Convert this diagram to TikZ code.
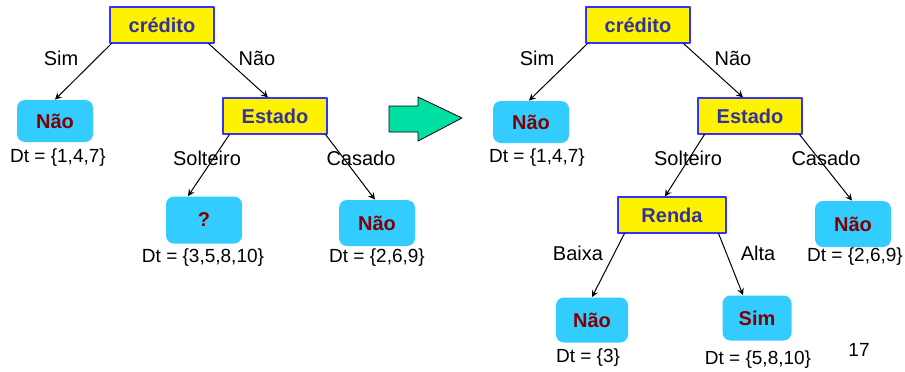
\documentclass[tikz,border=0pt]{standalone}
\usepackage{fontspec}
\setmainfont{Liberation Sans}
\definecolor{azul}{RGB}{51,51,153}
\definecolor{borda}{RGB}{51,51,255}
\definecolor{ciano}{RGB}{51,204,255}
\definecolor{vinho}{RGB}{128,0,0}
\definecolor{seta}{RGB}{0,224,164}
\begin{document}
\begin{tikzpicture}[x=0.5pt,y=-0.5pt,>=stealth, font=\fontsize{10}{12}\selectfont, line join=round, line cap=round,
	teste/.style={draw=borda, fill=yellow, line width=0.6pt, inner sep=0pt, minimum width=52pt, minimum height=18pt, font=\fontsize{10}{12}\selectfont\bfseries, text=azul},
	folha/.style={fill=ciano, rounded corners=4pt, inner sep=0pt, minimum width=38pt, minimum height=21pt, font=\fontsize{10}{12}\selectfont\bfseries, text=vinho},
	conj/.style={font=\fontsize{9.5}{11}\selectfont},
	ramo/.style={->, line width=0.5pt}]
	\useasboundingbox (0,0) rectangle (905,371);
	% arvore inicial
	\node[teste] (c1) at (162,25) {crédito};
	\node[folha] (n1) at (55,121) {Não};
	\node[conj] (d1) at (58,158) {Dt = \{1,4,7\}};
	\node[teste] (e1) at (275,116) {Estado};
	\node[folha, minimum height=23.5pt] (q1) at (204,220) {?};
	\node[conj] (d2) at (203,258) {Dt = \{3,5,8,10\}};
	\node[folha, minimum height=23pt] (n2) at (377,223) {Não};
	\node[conj] (d3) at (377,258) {Dt = \{2,6,9\}};
	\node (sim1) at (61,58) {Sim};
	\node (nao1) at (257,58) {Não};
	\node (sol1) at (207,158) {Solteiro};
	\node (cas1) at (361,158) {Casado};
	\draw[ramo] ([xshift=1pt]c1.south west) -- (n1.north);
	\draw[ramo] ([xshift=-3pt]c1.south east) -- ([xshift=-3.5pt]e1.north);
	\draw[ramo] ([xshift=3.5pt]e1.south west) -- ([xshift=-8pt]q1.north);
	\draw[ramo] ([xshift=-1pt]e1.south east) -- ([xshift=-1pt]n2.north);
	% seta grande
	\draw[fill=seta, line width=0.4pt] (389,106) -- (418,106) -- (418,97) -- (462,118) -- (418,141) -- (418,132) -- (389,132) -- cycle;
	% arvore expandida
	\node[teste] (c2) at (638,25) {crédito};
	\node[folha] (n3) at (531,122) {Não};
	\node[conj] (d4) at (537,158) {Dt = \{1,4,7\}};
	\node[teste] (e2) at (750,116) {Estado};
	\node[teste, minimum width=54pt] (r2) at (672,215) {Renda};
	\node[folha, minimum height=23pt] (n4) at (853,224) {Não};
	\node[conj] (d5) at (855,257) {Dt = \{2,6,9\}};
	\node[folha, minimum width=36pt, minimum height=22.5pt] (n5) at (592,320) {Não};
	\node[conj] (d6) at (588,358) {Dt = \{3\}};
	\node[folha, minimum width=34.5pt, minimum height=22.5pt] (s1) at (757,318) {Sim};
	\node[conj] (d7) at (758,360) {Dt = \{5,8,10\}};
	\node (sim2) at (537,58) {Sim};
	\node (nao2) at (733,58) {Não};
	\node (sol2) at (688,158) {Solteiro};
	\node (cas2) at (826,158) {Casado};
	\node (bai) at (578,253) {Baixa};
	\node (alt) at (758,253) {Alta};
	\node[conj] (pag) at (859,350) {17};
	\draw[ramo] ([xshift=1pt]c2.south west) -- ([xshift=-1pt]n3.north);
	\draw[ramo] ([xshift=-3.5pt]c2.south east) -- ([xshift=-3.5pt]e2.north);
	\draw[ramo] ([xshift=3.5pt]e2.south west) -- ([xshift=-3.5pt]r2.north);
	\draw[ramo] ([xshift=-1.5pt]e2.south east) -- ([xshift=-0.5pt]n4.north);
	\draw[ramo] ([xshift=3.5pt]r2.south west) -- (n5.north);
	\draw[ramo] ([xshift=-4pt]r2.south east) -- ([xshift=-7pt]s1.north);
\end{tikzpicture}
\end{document}
